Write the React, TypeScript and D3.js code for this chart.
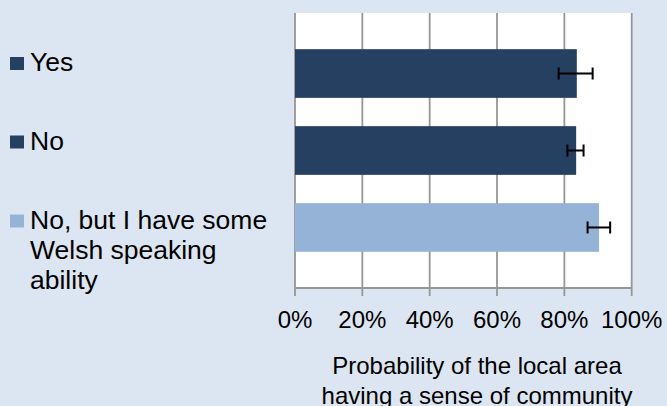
import React from "react";
import * as d3 from "d3";

const categories = ["Yes", "No", "No, but I have some Welsh speaking ability"];
const legendLines = [["Yes"], ["No"], ["No, but I have some", "Welsh speaking", "ability"]];
const values = [0.837, 0.835, 0.903];
const errLow = [0.783, 0.809, 0.869];
const errHigh = [0.884, 0.857, 0.936];
const colors = ["#254061", "#254061", "#95b3d7"];
const xTicks = [0, 0.2, 0.4, 0.6, 0.8, 1.0];
const titleLines = ["Probability of the local area", "having a sense of community"];

const W = 667;
const H = 406;
const FONT = "'Liberation Sans', Arial, sans-serif";

export default function App() {
  const x = d3.scaleLinear().domain([0, 1]).range([295, 631.7]);
  const y = d3
    .scaleBand<string>()
    .domain(categories)
    .range([13, 288])
    .paddingInner(0.3675)
    .paddingOuter(0.47);
  const fmt = d3.format(".0%");
  const plotTop = 13;
  const plotBottom = 288;
  const legendBase = [71, 149.5, 228.5];

  return (
    <svg
      width={W}
      height={H}
      style={{ position: "absolute", left: 0, top: 0, display: "block" }}
      fontFamily={FONT}
    >
      <rect x={0} y={0} width={W} height={H} fill="#dce6f2" />
      <rect
        x={x(0)}
        y={plotTop}
        width={x(1) - x(0)}
        height={plotBottom - plotTop}
        fill="#ffffff"
      />
      {xTicks.map((t) => (
        <line
          key={"g" + t}
          x1={x(t)}
          x2={x(t)}
          y1={plotTop}
          y2={plotBottom + 8}
          stroke="#969696"
          strokeWidth={1.8}
        />
      ))}
      <line
        x1={x(0)}
        x2={x(1)}
        y1={plotBottom}
        y2={plotBottom}
        stroke="#969696"
        strokeWidth={1.8}
      />
      {categories.map((c, i) => (
        <rect
          key={"b" + i}
          x={x(0)}
          y={y(c)!}
          width={x(values[i]) - x(0)}
          height={y.bandwidth()}
          fill={colors[i]}
        />
      ))}
      {categories.map((c, i) => {
        const cy = y(c)! + y.bandwidth() / 2;
        return (
          <g key={"e" + i} stroke="#000" strokeWidth={2}>
            <line x1={x(errLow[i])} x2={x(errHigh[i])} y1={cy} y2={cy} />
            <line x1={x(errLow[i])} x2={x(errLow[i])} y1={cy - 6} y2={cy + 6} />
            <line x1={x(errHigh[i])} x2={x(errHigh[i])} y1={cy - 6} y2={cy + 6} />
          </g>
        );
      })}
      {xTicks.map((t) => (
        <text
          key={"t" + t}
          x={x(t)}
          y={327.5}
          textAnchor="middle"
          fontSize={24}
          fill="#000"
        >
          {fmt(t)}
        </text>
      ))}
      {titleLines.map((l, i) => (
        <text
          key={"ti" + i}
          x={477}
          y={373.5 + i * 30}
          textAnchor="middle"
          fontSize={24}
          fill="#000"
        >
          {l}
        </text>
      ))}
      {legendLines.map((lines, i) => (
        <g key={"l" + i}>
          <rect
            x={10}
            y={legendBase[i] - 14}
            width={14}
            height={13}
            fill={colors[i]}
          />
          {lines.map((l, j) => (
            <text
              key={j}
              x={30}
              y={legendBase[i] + j * 30}
              fontSize={26.5}
              fill="#000"
            >
              {l}
            </text>
          ))}
        </g>
      ))}
    </svg>
  );
}
